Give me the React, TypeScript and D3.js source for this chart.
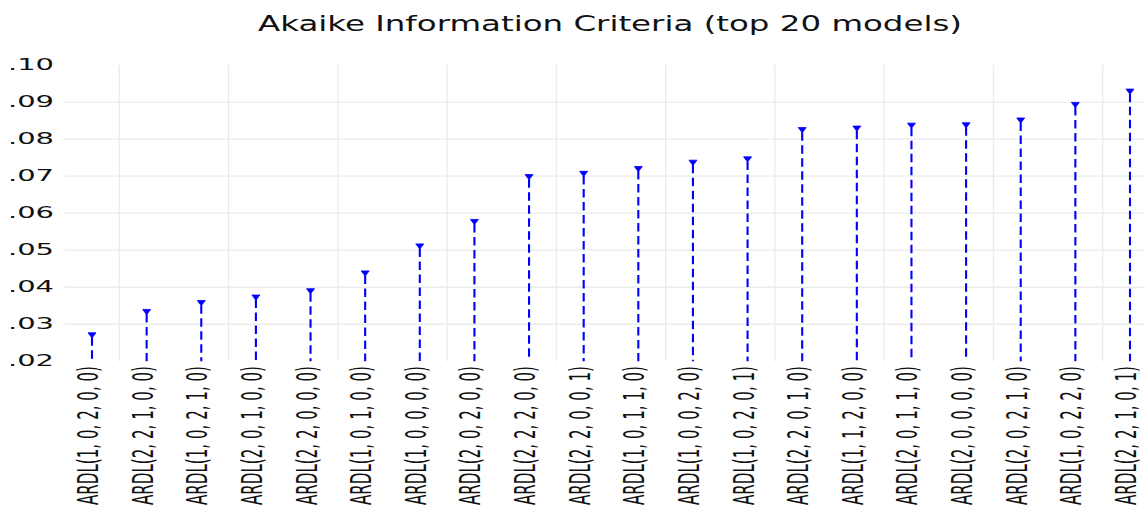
import React from "react";
import * as d3 from "d3";

const categories: string[] = [
  "ARDL(1, 0, 2, 0, 0)",
  "ARDL(2, 2, 1, 0, 0)",
  "ARDL(1, 0, 2, 1, 0)",
  "ARDL(2, 0, 1, 0, 0)",
  "ARDL(2, 2, 0, 0, 0)",
  "ARDL(1, 0, 1, 0, 0)",
  "ARDL(1, 0, 0, 0, 0)",
  "ARDL(2, 0, 2, 0, 0)",
  "ARDL(2, 2, 2, 0, 0)",
  "ARDL(2, 2, 0, 0, 1)",
  "ARDL(1, 0, 1, 1, 0)",
  "ARDL(1, 0, 0, 2, 0)",
  "ARDL(1, 0, 2, 0, 1)",
  "ARDL(2, 2, 0, 1, 0)",
  "ARDL(1, 1, 2, 0, 0)",
  "ARDL(2, 0, 1, 1, 0)",
  "ARDL(2, 0, 0, 0, 0)",
  "ARDL(2, 0, 2, 1, 0)",
  "ARDL(1, 0, 2, 2, 0)",
  "ARDL(2, 2, 1, 0, 1)",
];

const aicValues: number[] = [
  0.027, 0.0333, 0.0357, 0.0372, 0.0389, 0.0437, 0.051, 0.0576, 0.0697, 0.0706,
  0.0719, 0.0736, 0.0745, 0.0824, 0.0828, 0.0836, 0.0837, 0.085, 0.0892, 0.0928,
];

const yTicks: number[] = [0.02, 0.03, 0.04, 0.05, 0.06, 0.07, 0.08, 0.09, 0.1];
const yTickLabels: string[] = [".02", ".03", ".04", ".05", ".06", ".07", ".08", ".09", ".10"];

const titleText = "Akaike Information Criteria (top 20 models)";

const W = 1145;
const H = 512;
const plotLeft = 64.7;
const bandW = 54.63;
const plotTop = 65;
const plotBottom = 361.3;
const SX = 1.87;
const FONT = "'DejaVu Sans', Verdana, sans-serif";

export default function App() {
  const x = d3
    .scaleBand<string>()
    .domain(categories)
    .range([plotLeft, plotLeft + bandW * categories.length])
    .padding(0);
  const y = d3.scaleLinear().domain([0.02, 0.1]).range([plotBottom, plotTop]);
  const cx = (c: string) => (x(c) as number) + x.bandwidth() / 2;

  const vGrid = categories.filter((_, i) => i % 2 === 0 && i < categories.length - 1);

  const marker = d3.line()([
    [-4, -2.6],
    [4, -2.6],
    [0, 2.6],
    [-4, -2.6],
  ]) as string;

  return (
    <svg
      width={W}
      height={H}
      style={{ position: "absolute", left: 0, top: 0, background: "#fff" }}
    >
      <rect x={0} y={0} width={W} height={H} fill="#ffffff" />
      {yTicks
        .filter((t) => t > 0.02 + 1e-9 && t < 0.1 - 1e-9)
        .map((t) => (
          <line
            key={"h" + t}
            x1={plotLeft}
            x2={W}
            y1={y(t)}
            y2={y(t)}
            stroke="#ebebeb"
            strokeWidth={1.3}
          />
        ))}
      {vGrid.map((c) => (
        <line
          key={"v" + c}
          x1={(x(c) as number) + x.bandwidth()}
          x2={(x(c) as number) + x.bandwidth()}
          y1={plotTop}
          y2={plotBottom}
          stroke="#ebebeb"
          strokeWidth={1.3}
        />
      ))}
      {categories.map((c, i) => (
        <g key={"s" + c}>
          <line
            x1={cx(c)}
            x2={cx(c)}
            y1={y(aicValues[i]) + 2}
            y2={y(0.02)}
            stroke="#0000ff"
            strokeWidth={2.1}
            strokeDasharray="8.5,4.5"
          />
          <path
            d={marker}
            transform={`translate(${cx(c)},${y(aicValues[i])})`}
            fill="#0000ff"
            stroke="#0000ff"
            strokeWidth={0.8}
          />
        </g>
      ))}
      {yTicks.map((t, i) => (
        <text
          key={"yt" + t}
          transform={`translate(54,${y(t) + 0.5}) scale(${SX},1)`}
          textAnchor="end"
          fontFamily={FONT}
          fontSize={15.5}
          fill="#111"
          dominantBaseline="middle"
        >
          {yTickLabels[i]}
        </text>
      ))}
      {categories.map((c) => (
        <text
          key={"xl" + c}
          transform={`translate(${cx(c) + 6},366) scale(1.9,1) rotate(-90)`}
          textAnchor="end"
          fontFamily={FONT}
          fontSize={15.1}
          fill="#111"
        >
          {c}
        </text>
      ))}
      <text
        x={610}
        y={31}
        textAnchor="middle"
        fontFamily={FONT}
        fontSize={21}
        textLength={704}
        lengthAdjust="spacingAndGlyphs"
        fill="#111"
      >
        {titleText}
      </text>
    </svg>
  );
}
